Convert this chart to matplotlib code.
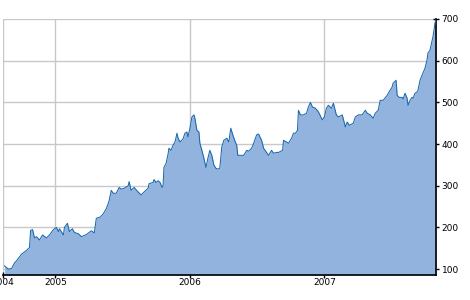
import matplotlib.pyplot as plt

# decimal year of each reading and the closing price at that point
years = [2004.622, 2004.630, 2004.652, 2004.674, 2004.696, 2004.711, 2004.748, 2004.785,
         2004.807, 2004.815, 2004.830, 2004.844, 2004.859, 2004.881, 2004.904, 2004.933,
         2004.956, 2004.985, 2005.007, 2005.022, 2005.030, 2005.059, 2005.067, 2005.089,
         2005.104, 2005.126, 2005.141, 2005.170, 2005.193, 2005.230, 2005.267, 2005.289,
         2005.304, 2005.333, 2005.356, 2005.378, 2005.393, 2005.400, 2005.415, 2005.430,
         2005.452, 2005.474, 2005.489, 2005.511, 2005.541, 2005.548, 2005.563, 2005.585,
         2005.615, 2005.637, 2005.659, 2005.689, 2005.696, 2005.726, 2005.733, 2005.748,
         2005.763, 2005.778, 2005.793, 2005.800, 2005.807, 2005.822, 2005.837, 2005.844,
         2005.859, 2005.874, 2005.889, 2005.904, 2005.911, 2005.926, 2005.948, 2005.963,
         2005.978, 2005.985, 2006.000, 2006.015, 2006.030, 2006.037, 2006.052, 2006.067,
         2006.074, 2006.089, 2006.104, 2006.119, 2006.133, 2006.148, 2006.163, 2006.178,
         2006.193, 2006.207, 2006.222, 2006.237, 2006.252, 2006.274, 2006.289, 2006.304,
         2006.319, 2006.333, 2006.348, 2006.356, 2006.378, 2006.400, 2006.422, 2006.437,
         2006.459, 2006.474, 2006.496, 2006.511, 2006.533, 2006.548, 2006.570, 2006.585,
         2006.607, 2006.622, 2006.644, 2006.659, 2006.689, 2006.696, 2006.719, 2006.733,
         2006.756, 2006.770, 2006.785, 2006.800, 2006.807, 2006.822, 2006.844, 2006.867,
         2006.881, 2006.896, 2006.911, 2006.933, 2006.956, 2006.985, 2007.000, 2007.015,
         2007.030, 2007.052, 2007.067, 2007.089, 2007.104, 2007.133, 2007.156, 2007.170,
         2007.185, 2007.215, 2007.230, 2007.252, 2007.281, 2007.304, 2007.319, 2007.341,
         2007.363, 2007.378, 2007.400, 2007.415, 2007.437, 2007.467, 2007.481, 2007.504,
         2007.511, 2007.533, 2007.541, 2007.556, 2007.578, 2007.585, 2007.600, 2007.615,
         2007.622, 2007.637, 2007.652, 2007.659, 2007.674, 2007.689, 2007.696, 2007.711,
         2007.726, 2007.733, 2007.748, 2007.763, 2007.770, 2007.785, 2007.793, 2007.807,
         2007.815, 2007.822, 2007.830]

prices = [108, 105, 100, 102, 115, 120, 136, 145,
          152, 193, 195, 175, 178, 170, 182, 175,
          182, 195, 200, 190, 197, 182, 200, 210,
          190, 197, 188, 185, 178, 183, 192, 187,
          222, 225, 233, 245, 258, 265, 289, 282,
          282, 296, 292, 294, 300, 310, 289, 296,
          285, 278, 285, 294, 305, 308, 315, 308,
          312, 308, 296, 300, 344, 353, 375, 390,
          385, 397, 405, 426, 415, 405, 412, 426,
          429, 417, 438, 465, 470, 462, 433, 429,
          402, 385, 366, 344, 365, 385, 373, 350,
          342, 340, 342, 393, 409, 414, 405, 438,
          422, 409, 397, 373, 373, 373, 385, 383,
          390, 402, 422, 424, 409, 390, 380, 373,
          385, 378, 380, 380, 385, 409, 405, 402,
          414, 426, 426, 433, 481, 470, 470, 474,
          489, 500, 489, 486, 477, 458, 465, 486,
          493, 486, 498, 470, 465, 470, 441, 453,
          445, 450, 465, 470, 470, 481, 474, 470,
          462, 474, 481, 505, 505, 517, 525, 537,
          546, 553, 517, 512, 512, 508, 522, 510,
          493, 505, 512, 510, 522, 525, 529, 553,
          565, 570, 582, 601, 618, 625, 637, 657,
          673, 690, 698]

y_ticks = [100, 200, 300, 400, 500, 600, 700]
x_ticks = [2004.61, 2005, 2006, 2007]
x_labels = ['2004', '2005', '2006', '2007']

fig = plt.figure(figsize=(4.7, 3.0), dpi=100)
ax = fig.add_axes([3 / 470, 25 / 300, 433 / 470, 256 / 300])

ymin = 86
ax.fill_between(years, prices, ymin, color='#92b3de', lw=0, zorder=2)
ax.plot(years, prices, color='#1a68ad', lw=0.75, zorder=3)

ax.set_xlim(2004.61, 2007.83)
ax.set_ylim(ymin, 700)

ax.grid(True, color='#c8c8c8', lw=1)
ax.set_axisbelow(True)

ax.yaxis.tick_right()
ax.set_yticks(y_ticks)
ax.set_yticklabels([str(v) for v in y_ticks])
ax.set_xticks(x_ticks)
ax.set_xticklabels(x_labels)
ax.tick_params(axis='both', direction='inout', length=4, width=1, labelsize=6.5,
               colors='black')
ax.tick_params(axis='x', pad=0)
ax.tick_params(axis='y', pad=2)

for side in ['top', 'left']:
    ax.spines[side].set_visible(False)
ax.spines['right'].set_linewidth(1.2)
ax.spines['bottom'].set_linewidth(1.2)

fig.savefig('out.png', dpi=100)
